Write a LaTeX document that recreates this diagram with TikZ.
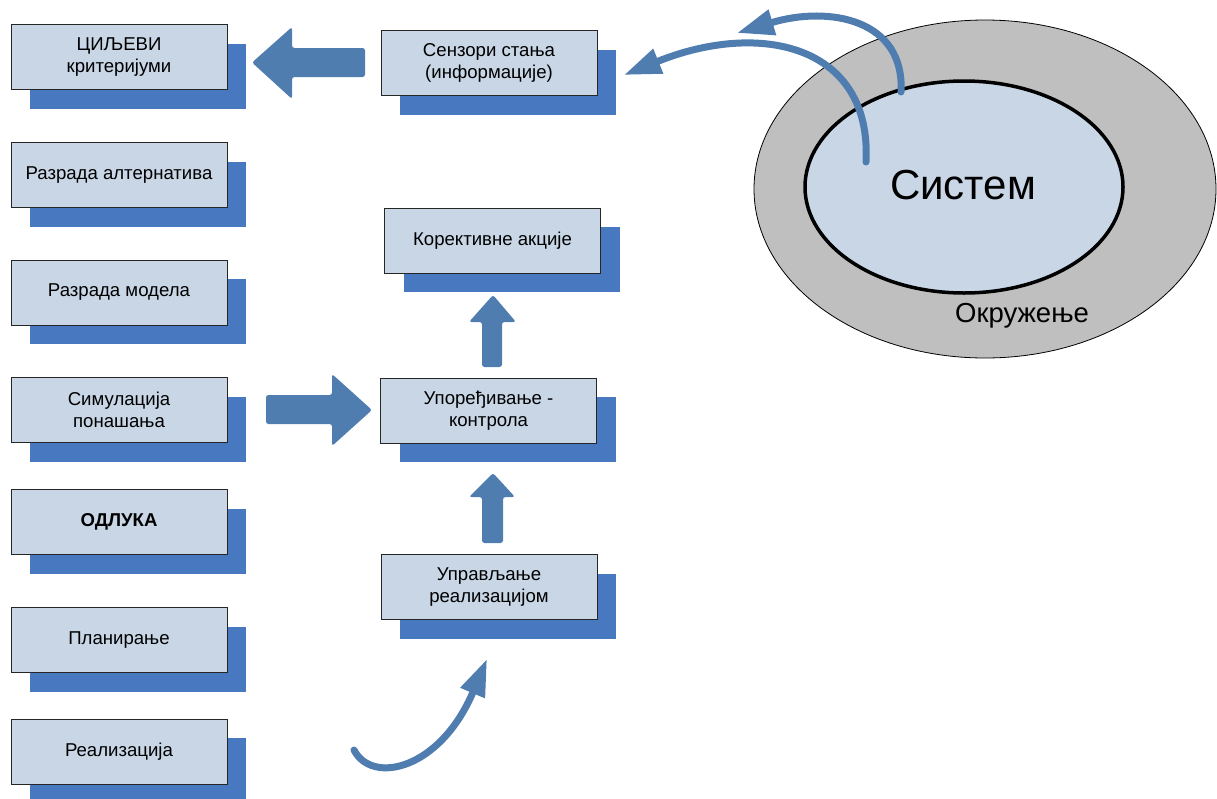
\documentclass[tikz,border=0pt]{standalone}
\usepackage{fontspec}
\setmainfont{Liberation Sans}
\usetikzlibrary{arrows.meta,shadows,shapes.geometric}
\definecolor{boxfill}{HTML}{C8D6E6}
\definecolor{shadowblue}{HTML}{4878C0}
\definecolor{arrowblue}{HTML}{4F7DB0}
\definecolor{envgray}{HTML}{BFBFBF}
\begin{document}
\begin{tikzpicture}[x=1pt,y=-1pt,
  box/.style={draw=black!85, line width=1pt, fill=boxfill, minimum width=216pt,
    minimum height=65pt, align=center, inner sep=0pt,
    font=\fontsize{18.6}{21.5}\selectfont,
    general shadow={fill=shadowblue, shadow xshift=19pt, shadow yshift=-19pt}},
  blockarrow/.style={fill=arrowblue, rounded corners=2.5pt},
  curvearrow/.style={draw=arrowblue, line width=7pt, line cap=round,
    -{Triangle[length=37pt,width=25pt]}}
]
\useasboundingbox (0,0) rectangle (1217,798);

% left column
\node[box] (goals) at (119,57) {ЦИЉЕВИ\\критеријуми};
\node[box] (alt)   at (119,175)  {Разрада алтернатива};
\node[box] (model) at (119,292.5) {Разрада модела};
\node[box] (sim)   at (119,410) {Симулација\\понашања};
\node[box] (dec)   at (119,522)  {\textbf{ОДЛУКА}};
\node[box] (plan)  at (119,640)  {Планирање};
\node[box] (real)  at (119,751.5) {Реализација};

% middle column
\node[box] (sens)  at (489,63)  {Сензори стања\\(информације)};
\node[box] (corr)  at (492.5,240.5) {Корективне акције};
\node[box] (comp)  at (488.5,410.5) {Упоређивање -\\контрола};
\node[box] (mgmt)  at (489,587) {Управљање\\реализацијом};

% environment and system
\node[draw=black, line width=0.8pt, fill=envgray, ellipse, minimum width=462pt, minimum height=338pt, inner sep=0pt] (env) at (985,189) {};
\node[draw=black, line width=3.5pt, fill=boxfill, ellipse, minimum width=318pt, minimum height=212pt, inner sep=0pt] (sys) at (964,187) {};
\node[font=\fontsize{42}{48}\selectfont] (systxt) at (963,185) {Систем};
\node[font=\fontsize{27.5}{32}\selectfont] (envtxt) at (1022,316) {Окружење};

% block arrows
\fill[blockarrow] (365,48) -- (292,48) -- (292,27) -- (252,62.5) -- (292,99) -- (292,77) -- (365,77) -- cycle;
\fill[blockarrow] (266,395) -- (332,395) -- (332,374) -- (372,410) -- (332,446) -- (332,424) -- (266,424) -- cycle;
\fill[blockarrow] (482,367) -- (482,322) -- (469,322) -- (493,295) -- (516,322) -- (502,322) -- (502,367) -- cycle;
\fill[blockarrow] (482,543) -- (482,497) -- (469,497) -- (493,473) -- (515,497) -- (503,497) -- (503,543) -- cycle;

% curved arrows
\coordinate (aStart) at (866,162);
\coordinate (aEnd) at (624,75);
\coordinate (bStart) at (901,92);
\coordinate (bEnd) at (737,33);
\coordinate (cStart) at (354,750);
\coordinate (cEnd) at (487,659);
\draw[curvearrow] (aStart) .. controls (872,45) and (760,20) .. (aEnd);
\draw[curvearrow] (bStart) .. controls (905,20) and (830,5) .. (bEnd);
\draw[curvearrow] (cStart) .. controls (372,785) and (440,770) .. (cEnd);
\end{tikzpicture}
\end{document}
